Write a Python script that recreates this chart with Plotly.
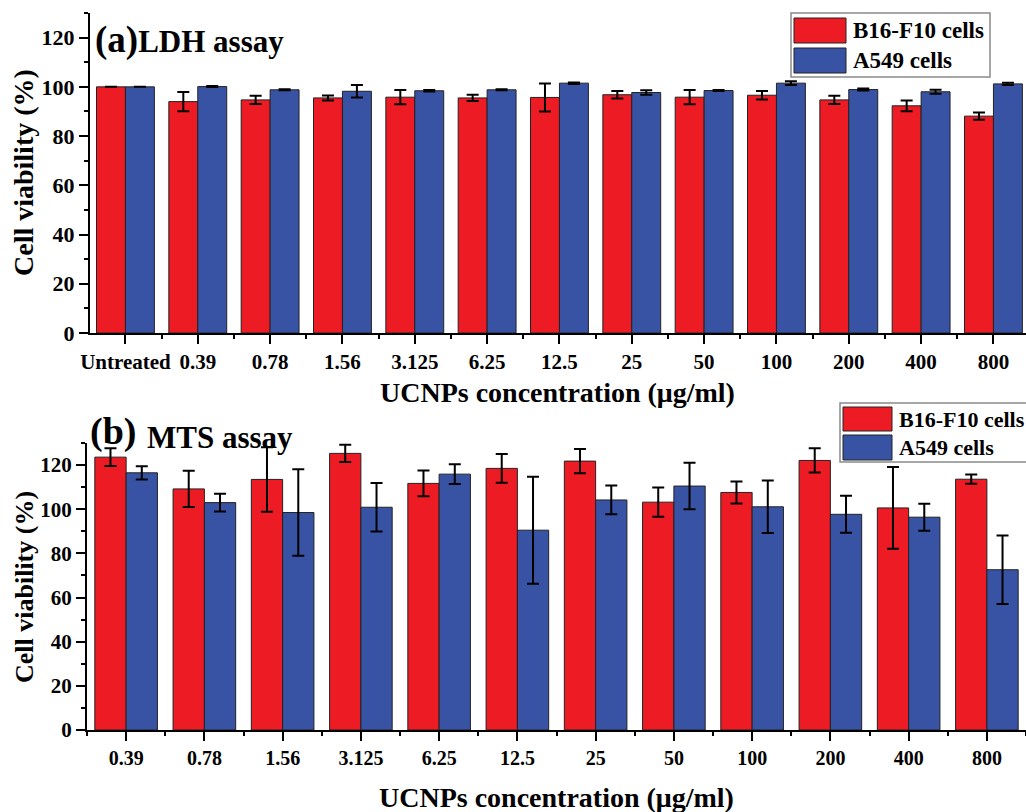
import plotly.graph_objects as go

# ---------------- data ----------------
ldh_categories = ["Untreated", "0.39", "0.78", "1.56", "3.125", "6.25", "12.5",
                  "25", "50", "100", "200", "400", "800"]
ldh_b16 = [100.0, 94.0, 94.7, 95.5, 95.8, 95.5, 95.7, 96.8, 95.8, 96.6, 94.7, 92.3, 88.1]
ldh_b16_err = [0.0, 3.9, 1.7, 1.0, 2.9, 1.3, 5.7, 1.5, 2.9, 1.7, 1.7, 2.2, 1.5]
ldh_a549 = [100.0, 100.1, 98.8, 98.2, 98.4, 98.8, 101.5, 97.7, 98.5, 101.5, 98.9, 98.0, 101.2]
ldh_a549_err = [0.0, 0.2, 0.2, 2.5, 0.3, 0.2, 0.3, 0.9, 0.2, 0.8, 0.4, 0.8, 0.5]

mts_categories = ["0.39", "0.78", "1.56", "3.125", "6.25", "12.5",
                  "25", "50", "100", "200", "400", "800"]
mts_b16 = [123.6, 109.2, 113.5, 125.3, 111.7, 118.5, 121.8, 103.2, 107.6, 122.1, 100.6, 113.6]
mts_b16_err = [4.0, 8.2, 14.6, 3.9, 5.8, 6.5, 5.5, 6.6, 5.0, 5.5, 18.5, 2.1]
mts_a549 = [116.5, 103.0, 98.5, 100.9, 115.9, 90.5, 104.2, 110.5, 101.1, 97.7, 96.4, 72.6]
mts_a549_err = [3.0, 4.0, 19.6, 11.0, 4.5, 24.2, 6.5, 10.5, 11.9, 8.4, 6.1, 15.5]

series_names = ["B16-F10 cells", "A549 cells"]
series_colors = ["#ED1C24", "#3953A4"]

# ---------------- figure ----------------
W, H = 1026, 812
FONT = "Liberation Serif, Times New Roman, serif"

fig = go.Figure()


def add_bars(values, errors, name, color, xa, ya):
    fig.add_trace(go.Bar(
        x=list(range(len(values))), y=values, name=name,
        marker=dict(color=color, line=dict(color="#222222", width=1)),
        error_y=dict(type="data", array=errors, visible=True,
                     color="black", thickness=2, width=6),
        xaxis=xa, yaxis=ya, showlegend=False,
    ))


add_bars(ldh_b16, ldh_b16_err, series_names[0], series_colors[0], "x", "y")
add_bars(ldh_a549, ldh_a549_err, series_names[1], series_colors[1], "x", "y")
add_bars(mts_b16, mts_b16_err, series_names[0], series_colors[0], "x2", "y2")
add_bars(mts_a549, mts_a549_err, series_names[1], series_colors[1], "x2", "y2")


def px_x(v):
    return v / W


def px_y(v):
    return 1 - v / H


def tfont(size):
    return dict(family=FONT, size=size, color="black", weight="bold")


axis_common = dict(showline=True, linecolor="black", linewidth=2, ticks="outside",
                   tickcolor="black", tickwidth=2, ticklen=9, showgrid=False,
                   zeroline=False, automargin=False)
x_minor = dict(ticks="outside", tick0=0.5, dtick=1, ticklen=4, tickwidth=2,
               tickcolor="black")
y_minor = dict(ticks="outside", dtick=10, ticklen=4, tickwidth=2, tickcolor="black")

fig.update_layout(
    width=W, height=H, margin=dict(l=0, r=0, t=0, b=0),
    paper_bgcolor="white", plot_bgcolor="white",
    barmode="group", bargap=0.2, bargroupgap=0,
    xaxis=dict(domain=[px_x(90), 1.0], anchor="y", range=[-0.49, 12.45],
               tickmode="array", tickvals=list(range(len(ldh_categories))),
               ticktext=ldh_categories, minor=x_minor, tickfont=tfont(21),
               **axis_common),
    yaxis=dict(domain=[px_y(333), px_y(13)], anchor="x", range=[0, 130],
               tickmode="linear", tick0=0, dtick=20, minor=y_minor,
               tickfont=tfont(22), **axis_common),
    xaxis2=dict(domain=[px_x(87), 1.0], anchor="y2", range=[-0.5, 11.5],
                tickmode="array", tickvals=list(range(len(mts_categories))),
                ticktext=mts_categories, minor=x_minor, tickfont=tfont(20),
                **axis_common),
    yaxis2=dict(domain=[px_y(730), px_y(443)], anchor="x2", range=[0, 130],
                tickmode="linear", tick0=0, dtick=20, minor=y_minor,
                tickfont=tfont(21), **axis_common),
)


def text(x, y, s, size, xanchor="center", angle=0):
    fig.add_annotation(x=px_x(x), y=px_y(y), xref="paper", yref="paper",
                       text=s, showarrow=False, xanchor=xanchor, yanchor="middle",
                       textangle=angle, font=tfont(size))


# panel titles
text(93, 40, "<span style='font-size:37px'>(a)</span>LDH assay", 31, xanchor="left")
text(88, 431, "(b)", 38, xanchor="left")
text(145, 437, "MTS assay", 31, xanchor="left")

# axis titles
text(557, 392, "UCNPs concentration (μg/ml)", 28)
text(556, 797, "UCNPs concentration (μg/ml)", 28)
text(23, 173, "Cell viability (%)", 28, angle=-90)
text(24, 587, "Cell viability (%)", 26, angle=-90)


# legends drawn as boxes with large swatches
def legend(box, swatches, labels, size):
    x0, y0, x1, y1 = box
    fig.add_shape(type="rect", xref="paper", yref="paper",
                  x0=px_x(x0), x1=px_x(x1), y0=px_y(y1), y1=px_y(y0),
                  line=dict(color="#8a8a8a", width=1.5), fillcolor="white")
    for (sx0, sy0, sx1, sy1), color, label in zip(swatches, series_colors, labels):
        fig.add_shape(type="rect", xref="paper", yref="paper",
                      x0=px_x(sx0), x1=px_x(sx1), y0=px_y(sy1), y1=px_y(sy0),
                      line=dict(color="#222222", width=1), fillcolor=color)
        text(sx1 + 5, (sy0 + sy1) / 2, label, size, xanchor="left")


legend((791, 13, 990, 77),
       [(794, 18, 846, 43), (794, 48, 846, 73)], series_names, 23)
legend((840, 403, 1040, 462),
       [(843, 407, 892, 431), (843, 435, 892, 460)], series_names, 22)

fig.write_html("out.html")
